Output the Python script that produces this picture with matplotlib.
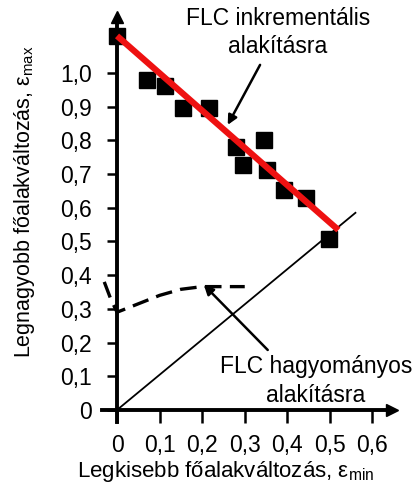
import matplotlib
matplotlib.use("Agg")
import matplotlib.pyplot as plt
import numpy as np

plt.rcParams['font.family'] = ['Liberation Sans', 'DejaVu Sans']
plt.rcParams['mathtext.fontset'] = 'custom'
plt.rcParams['mathtext.rm'] = 'Liberation Sans'
plt.rcParams['mathtext.it'] = 'Liberation Sans:italic'

# Data
exp_min = [0.0, 0.07, 0.113, 0.155, 0.216, 0.28, 0.296, 0.345, 0.352, 0.392, 0.444, 0.498]
exp_max = [1.11, 0.98, 0.96, 0.896, 0.896, 0.78, 0.727, 0.80, 0.712, 0.653, 0.629, 0.507]
fit_min = [0.0, 0.52]
fit_max = [1.11, 0.534]
diag_min = [0.0, 0.56]
diag_max = [0.0, 0.585]
flc_min = [-0.03, -0.015, 0.0, 0.05, 0.1, 0.15, 0.2, 0.25, 0.3]
flc_max = [0.38, 0.33, 0.29, 0.315, 0.34, 0.358, 0.366, 0.366, 0.366]
xticks = [0, 0.1, 0.2, 0.3, 0.4, 0.5, 0.6]
xticklabels = ['0', '0,1', '0,2', '0,3', '0,4', '0,5', '0,6']
yticks = [0, 0.1, 0.2, 0.3, 0.4, 0.5, 0.6, 0.7, 0.8, 0.9, 1.0]
yticklabels = ['0', '0,1', '0,2', '0,3', '0,4', '0,5', '0,6', '0,7', '0,8', '0,9', '1,0']

W, H = 418, 493
fig = plt.figure(figsize=(W/100, H/100), dpi=100)
ax = fig.add_axes([100/W, (H-416.7)/H, 298/W, 404.4/H])
ax.set_xlim(-0.04, 0.66)
ax.set_ylim(-0.02, 1.18)

for s in ['top', 'right']:
    ax.spines[s].set_visible(False)
ax.spines['left'].set_position(('data', 0))
ax.spines['bottom'].set_position(('data', 0))
ax.spines['left'].set_linewidth(2.8)
ax.spines['bottom'].set_linewidth(2.8)
ax.spines['left'].set_bounds(-0.035, 1.16)
ax.spines['bottom'].set_bounds(-0.035, 0.64)

ax.plot(0.645, 0, '>', color='black', markersize=8, clip_on=False, zorder=6)
ax.plot(0, 1.165, '^', color='black', markersize=8, clip_on=False, zorder=6)

ax.set_xticks(xticks)
ax.set_xticklabels(xticklabels)
ax.set_yticks(yticks)
ax.set_yticklabels(yticklabels)
ax.tick_params(axis='x', direction='out', length=9, width=1.8, pad=8, labelsize=16.5)
ax.tick_params(axis='y', direction='out', length=7, width=1.8, pad=11, labelsize=16.5)

# diagonal
ax.plot(diag_min, diag_max, color='black', lw=1.3, zorder=2)
# traditional FLC dashed
ax.plot(flc_min, flc_max, color='black', lw=2.4, dashes=(5, 2.5), zorder=3, clip_on=False)
# experimental points
ax.plot(exp_min, exp_max, 's', color='black', markersize=12, zorder=4, clip_on=False)
# fit line
ax.plot(fit_min, fit_max, color='#ee1111', lw=4.5, zorder=5, solid_capstyle='butt')

arrow = dict(arrowstyle='-|>', color='black', lw=1.8, mutation_scale=14, shrinkA=0, shrinkB=0)
ax.annotate('', xy=(0.26, 0.846), xytext=(0.336, 1.024), arrowprops=arrow, zorder=7)
ax.text(0.378, 1.12, 'FLC inkrementális\nalakításra', ha='center', va='center',
        fontsize=16.5, linespacing=1.3, zorder=7)
ax.annotate('', xy=(0.204, 0.371), xytext=(0.354, 0.178), arrowprops=arrow)
ax.text(0.467, 0.086, 'FLC hagyományos\nalakításra', ha='center', va='center',
        fontsize=16.5, linespacing=1.35)

fig.text(226/W, 1-472/H, r'Legkisebb főalakváltozás, ε$_{\mathrm{min}}$', ha='center', va='center', fontsize=16)
fig.text(25/W, 1-202/H, r'Legnagyobb főalakváltozás, ε$_{\mathrm{max}}$', ha='center', va='center', fontsize=15.5, rotation=90)

fig.savefig('out.png', dpi=100)
